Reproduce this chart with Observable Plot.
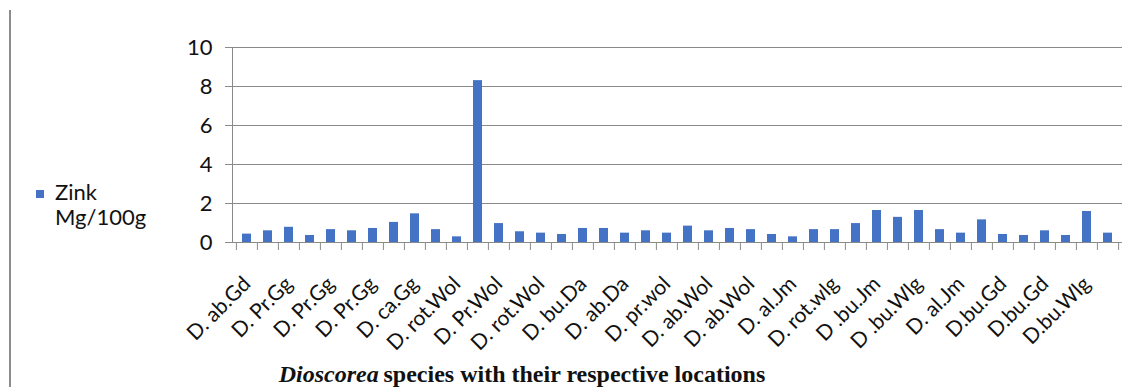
<!DOCTYPE html>
<html>
<head>
<meta charset="utf-8">
<script src="https://cdn.jsdelivr.net/npm/d3@7"></script>
<script src="https://cdn.jsdelivr.net/npm/@observablehq/plot@0.6"></script>
<style>
  html, body { margin: 0; padding: 0; background: #fff; }
  #wrap { position: relative; width: 1148px; height: 387px; overflow: hidden; background: #fff; }
  #border { position: absolute; left: 9px; top: 10px; width: 2px; height: 377px; background: #8c8c8c; }
  #legend { position: absolute; left: 36px; top: 179px; font-family: Lato, "Open Sans", sans-serif; font-size: 22px; line-height: 25px; color: #111; }
  #legend .sw { position: absolute; left: 0; top: 11px; width: 8px; height: 8px; background: #4472c4; }
  #legend .tx { margin-left: 19px; }
  #caption { position: absolute; left: 0; top: 361px; width: 1044px; text-align: center; font-family: "Liberation Serif", "Times New Roman", serif; font-weight: bold; font-size: 24px; line-height: 26px; color: #111; }
  #chart { position: absolute; left: 0; top: 0; }
</style>
</head>
<body>
<div id="wrap">
  <div id="border"></div>
  <div id="chart"></div>
  <div id="legend"><div class="sw"></div><div class="tx">Zink<br>Mg/100g</div></div>
  <div id="caption"><i>Dioscorea</i>&#8201;species with their respective locations</div>
</div>
<script>
const seriesName = "Zink Mg/100g";
const labels = ["D. ab.Gd","D. Pr.Gg","D. Pr.Gg","D. Pr.Gg","D. ca.Gg","D. rot.Wol","D. Pr.Wol","D. rot.Wol","D. bu.Da","D. ab.Da","D. pr.wol","D. ab.Wol","D. ab.Wol","D. al.Jm","D. rot.wlg","D .bu.Jm","D .bu.Wlg","D. al.Jm","D.bu.Gd","D.bu.Gd","D.bu.Wlg"];
const values = [0.43,0.6,0.78,0.36,0.66,0.6,0.72,1.03,1.47,0.66,0.29,8.3,0.97,0.55,0.48,0.41,0.72,0.72,0.48,0.6,0.48,0.84,0.6,0.72,0.66,0.41,0.29,0.66,0.66,0.97,1.64,1.29,1.64,0.66,0.48,1.16,0.41,0.36,0.6,0.36,1.59,0.48];
const yTicks = [0,2,4,6,8,10];

const W = 1148, H = 360, ml = 232, mr = 26, mt = 47, mb = H - 242;
const n = values.length;
const step = (W - ml - mr) / n;
const data = values.map((v, i) => ({i, v}));
const idx = d3.range(n);
const labelIdx = idx.filter(i => i % 2 === 0);
const grey = "#8a8a8a";
const font = "Lato, 'Open Sans', sans-serif";

const chart = Plot.plot({
  width: W, height: H,
  marginLeft: ml, marginRight: mr, marginTop: mt, marginBottom: mb,
  style: {fontFamily: font, background: "transparent", color: "#111", overflow: "visible"},
  x: {type: "band", domain: idx, paddingInner: 0.57, paddingOuter: 0.285},
  y: {domain: [0, 10]},
  marks: [
    Plot.gridY({ticks: yTicks, stroke: grey, strokeOpacity: 1}),
    Plot.axisY({ticks: yTicks, tickSize: 7, tickPadding: 13, fontSize: 22, label: null, stroke: grey, fill: "#111"}),
    Plot.barY(data, {x: "i", y: "v", fill: "#4472c4", title: d => `${seriesName}: ${d.v}`}),
    Plot.ruleY([0], {stroke: grey}),
    Plot.frame({anchor: "left", stroke: grey}),
    Plot.axisX({ticks: idx, tickSize: 8, tickFormat: () => "", dx: -step / 2, stroke: grey, label: null}),
    Plot.axisX({ticks: [n - 1], tickSize: 8, tickFormat: () => "", dx: step / 2, stroke: grey, label: null}),
    Plot.axisX({ticks: labelIdx, tickFormat: i => labels[i / 2], tickRotate: -45, tickSize: 0, tickPadding: 38, fontSize: 21, label: null, fill: "#111"})
  ]
});
document.getElementById("chart").appendChild(chart);
</script>
</body>
</html>
